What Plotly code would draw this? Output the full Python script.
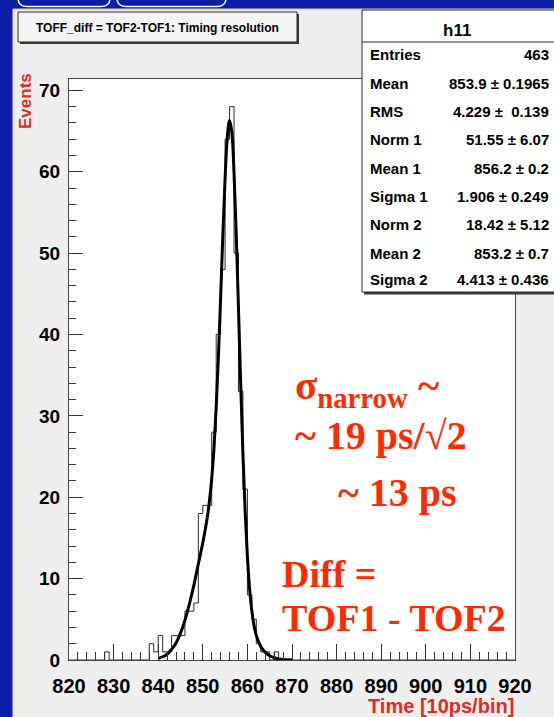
import plotly.graph_objects as go

# ---------------- data ----------------
bin_low_edge = 820
bin_width = 1
# counts per 1-unit bin from 820 to 919
counts = [
    0, 0, 0, 0, 0, 0, 0, 0, 1, 0,      # 820-829
    0, 0, 0, 0, 0, 0, 0, 0, 2, 1,      # 830-839
    3, 1, 1, 3, 3, 3, 6, 6, 7, 18,     # 840-849
    19, 19, 28, 40, 48, 64, 68, 50, 33, 21,  # 850-859
    8, 5, 2, 1, 1, 0, 1, 0, 0, 0,      # 860-869
    0, 0, 0, 0, 0, 0, 0, 0, 0, 0,      # 870-879
    0, 0, 0, 0, 0, 0, 0, 0, 0, 0,      # 880-889
    0, 0, 0, 0, 0, 0, 0, 0, 0, 0,      # 890-899
    0, 0, 0, 0, 0, 0, 0, 0, 0, 0,      # 900-909
    0, 0, 0, 0, 0, 0, 0, 0, 0, 0,      # 910-919
]

# double-gaussian fit curve
fit_x = [840, 841, 842, 843, 844, 845, 846, 847, 848, 849, 850, 851, 851.5,
         852, 852.5, 853, 853.5, 854, 854.5, 855, 855.5, 856, 856.5, 857,
         857.5, 858, 858.5, 859, 859.5, 860, 860.5, 861, 861.5, 862, 863,
         864, 865, 866, 867, 868, 869, 870]
fit_y = [0.2, 0.4, 0.7, 1.3, 2.1, 3.3, 4.9, 6.9, 9.2, 11.8, 14.4, 17.5, 19.6,
         22.3, 26.0, 31.0, 37.3, 44.6, 52.3, 59.2, 64.3, 66.3, 64.9, 59.9,
         52.3, 43.2, 33.9, 25.3, 18.2, 12.7, 8.7, 6.0, 4.2, 3.0, 1.65,
         0.93, 0.52, 0.28, 0.14, 0.07, 0.03, 0.01]

x_tick_vals = [820, 830, 840, 850, 860, 870, 880, 890, 900, 910, 920]
y_tick_vals = [0, 10, 20, 30, 40, 50, 60, 70]

title_text = "TOFF_diff = TOF2-TOF1: Timing resolution"
stats_name = "h11"
stats_labels = ["Entries", "Mean", "RMS", "Norm 1", "Mean 1", "Sigma 1",
                "Norm 2", "Mean 2", "Sigma 2"]
stats_values = ["463", "853.9 \u00b1 0.1965", "4.229 \u00b1 \u00a00.139",
                "51.55 \u00b1 6.07", "856.2 \u00b1 0.2", "1.906 \u00b1 0.249",
                "18.42 \u00b1 5.12", "853.2 \u00b1 0.7", "4.413 \u00b1 0.436"]

x_title = "Time [10ps/bin]"
y_title = "Events"
note_lines = ["\u03c3<sub>narrow</sub> ~", "~ 19 ps/\u221a2", "~ 13 ps",
              "Diff =", "TOF1 - TOF2"]

# ---------------- layout geometry (pixels) ----------------
W, H = 554, 717
L, R, T, B = 69, 515, 79, 660

def px(x):
    return (x - L) / (R - L)

def py(y):
    return (B - y) / (B - T)

SANS = "Liberation Sans, Arial, sans-serif"
SERIF = "Liberation Serif, Times New Roman, serif"
RED_TXT = "#ff2a00"
RED_AX = "#e8281e"

edges = [bin_low_edge + i * bin_width for i in range(len(counts) + 1)]
hist_y = counts + [counts[-1]]

fig = go.Figure()
fig.add_trace(go.Scatter(x=edges, y=hist_y, mode="lines", line_shape="hv",
                         line=dict(color="#2a2a2a", width=1), hoverinfo="skip"))
fig.add_trace(go.Scatter(x=fit_x, y=fit_y, mode="lines", line_shape="spline",
                         line=dict(color="black", width=3), hoverinfo="skip"))

shapes = []
# blue slide background strips
shapes.append(dict(type="rect", xref="paper", yref="paper", x0=px(-5), x1=px(12.5),
                   y0=py(-5), y1=py(H + 5), fillcolor="#0b1ea6", line=dict(width=0),
                   layer="above"))
shapes.append(dict(type="rect", xref="paper", yref="paper", x0=px(-5), x1=px(W + 5),
                   y0=py(-5), y1=py(8.8), fillcolor="#0b1ea6", line=dict(width=0),
                   layer="above"))
# white tab outlines in the top band
for a, b in [(18, 110), (117, 226)]:
    shapes.append(dict(type="path", xref="paper", yref="paper",
                       path=(f"M {px(a)},{py(-2)} Q {px(a)},{py(6.5)} {px(a+9)},{py(6.5)} "
                             f"L {px(b-9)},{py(6.5)} Q {px(b)},{py(6.5)} {px(b)},{py(-2)}"),
                       line=dict(color="white", width=1.5), layer="above"))
# yellow canvas edge
shapes.append(dict(type="line", xref="paper", yref="paper", x0=px(13.8), x1=px(13.8),
                   y0=py(9.5), y1=py(H + 5), line=dict(color="#efe27a", width=1.5),
                   layer="above"))
shapes.append(dict(type="line", xref="paper", yref="paper", x0=px(13.8), x1=px(W + 5),
                   y0=py(9.6), y1=py(9.6), line=dict(color="#efe27a", width=1.5),
                   layer="above"))
# title box with shadow
shapes.append(dict(type="rect", xref="paper", yref="paper", x0=px(20), x1=px(299),
                   y0=py(14), y1=py(44), fillcolor="#3a3a3a", line=dict(width=0),
                   layer="above"))
shapes.append(dict(type="rect", xref="paper", yref="paper", x0=px(18), x1=px(297),
                   y0=py(12), y1=py(42), fillcolor="#f4f4f4",
                   line=dict(color="#2a2a2a", width=1), layer="above"))
# stats box with shadow
shapes.append(dict(type="rect", xref="paper", yref="paper", x0=px(364), x1=px(W + 5),
                   y0=py(12), y1=py(294.5), fillcolor="#3a3a3a", line=dict(width=0),
                   layer="above"))
shapes.append(dict(type="rect", xref="paper", yref="paper", x0=px(362), x1=px(W + 5),
                   y0=py(10), y1=py(292), fillcolor="white",
                   line=dict(color="#2a2a2a", width=1), layer="above"))
shapes.append(dict(type="line", xref="paper", yref="paper", x0=px(362), x1=px(W + 5),
                   y0=py(42), y1=py(42), line=dict(color="#2a2a2a", width=1),
                   layer="above"))

ann = []
ann.append(dict(text=title_text, xref="paper", yref="paper", x=px(34), y=py(27.5),
                xanchor="left", yanchor="middle", showarrow=False,
                font=dict(family=SANS, size=12, color="black", weight="bold")))
ann.append(dict(text=stats_name, xref="paper", yref="paper", x=px(457), y=py(31),
                xanchor="center", yanchor="middle", showarrow=False,
                font=dict(family=SANS, size=17, color="black", weight="bold")))
row_y = [54, 83, 111.5, 140, 168, 196.5, 225, 253, 279.5]
for lab, val, yy in zip(stats_labels, stats_values, row_y):
    ann.append(dict(text=lab, xref="paper", yref="paper", x=px(368), y=py(yy),
                    xanchor="left", yanchor="middle", showarrow=False,
                    font=dict(family=SANS, size=15, color="black", weight="bold")))
    ann.append(dict(text=val, xref="paper", yref="paper", x=px(551), y=py(yy),
                    xanchor="right", yanchor="middle", showarrow=False,
                    font=dict(family=SANS, size=15, color="black", weight="bold")))
# axis titles
ann.append(dict(text=x_title, xref="paper", yref="paper", x=px(516), y=py(706),
                xanchor="right", yanchor="middle", showarrow=False,
                font=dict(family=SANS, size=20, color=RED_AX, weight="bold")))
ann.append(dict(text=y_title, xref="paper", yref="paper", x=px(26), y=py(101),
                xanchor="center", yanchor="middle", showarrow=False, textangle=-90,
                font=dict(family=SANS, size=17, color=RED_AX, weight="bold")))
# red notes
note_pos = [(293, 388, 41), (293, 435, 40), (336, 492, 40), (280, 574, 38), (280, 618, 38)]
for txt, (xx, yy, fs) in zip(note_lines, note_pos):
    ann.append(dict(text=txt, xref="paper", yref="paper", x=px(xx), y=py(yy),
                    xanchor="left", yanchor="middle", showarrow=False,
                    font=dict(family=SERIF, size=fs, color=RED_TXT, weight="bold")))

fig.update_layout(
    width=W, height=H, autosize=False,
    margin=dict(l=L, r=W - R, t=T, b=H - B, pad=0),
    paper_bgcolor="#efefef", plot_bgcolor="white",
    showlegend=False, shapes=shapes, annotations=ann,
    xaxis=dict(range=[820, 920], tickmode="array", tickvals=x_tick_vals,
               ticks="inside", ticklen=16, tickwidth=1, tickcolor="#333",
               minor=dict(dtick=2, tick0=820, ticks="inside", ticklen=8,
                          tickwidth=1, tickcolor="#333"),
               showline=True, linecolor="#444", linewidth=1, mirror=True,
               showgrid=False, zeroline=False, ticklabelstandoff=8,
               tickfont=dict(family=SANS, size=20, color="black", weight="bold")),
    yaxis=dict(range=[0, 71.4], tickmode="array", tickvals=y_tick_vals,
               ticks="inside", ticklen=14, tickwidth=1, tickcolor="#333",
               minor=dict(dtick=2, tick0=0, ticks="inside", ticklen=7,
                          tickwidth=1, tickcolor="#333"),
               showline=True, linecolor="#444", linewidth=1, mirror=True,
               showgrid=False, zeroline=False, ticklabelstandoff=4,
               tickfont=dict(family=SANS, size=19, color="black", weight="bold")),
)

fig.write_html("out.html", config={"displayModeBar": False})
